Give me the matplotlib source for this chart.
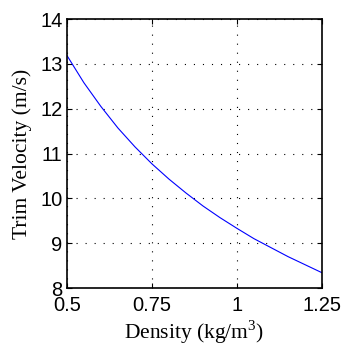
import matplotlib
matplotlib.use("Agg")
import matplotlib.pyplot as plt

# Data
density = [0.50, 0.55, 0.60, 0.65, 0.70, 0.75, 0.80, 0.85, 0.90, 0.95,
           1.00, 1.05, 1.10, 1.15, 1.20, 1.25]
trim_velocity = [13.19, 12.58, 12.05, 11.57, 11.15, 10.77, 10.43, 10.12, 9.83, 9.57,
                 9.33, 9.10, 8.90, 8.70, 8.52, 8.34]
xticks = [0.5, 0.75, 1.0, 1.25]
xticklabels = ["0.5", "0.75", "1", "1.25"]
yticks = [8, 9, 10, 11, 12, 13, 14]

plt.rcParams['lines.scale_dashes'] = False
plt.rcParams['mathtext.fontset'] = 'custom'
plt.rcParams['mathtext.rm'] = 'Liberation Serif'

fig = plt.figure(figsize=(3.43, 3.47), dpi=100)
ax = fig.add_axes([0.195, 0.170, 0.744, 0.775])

ax.plot(density, trim_velocity, color=(0, 0, 1), lw=0.8)

ax.set_xlim(0.5, 1.25)
ax.set_ylim(8, 14)
ax.set_xticks(xticks)
ax.set_xticklabels(xticklabels)
ax.set_yticks(yticks)

for lab in ax.get_xticklabels() + ax.get_yticklabels():
    lab.set_fontfamily(['Liberation Sans', 'DejaVu Sans'])
    lab.set_fontsize(14.5)

ax.tick_params(direction='in', length=3.5, width=0.8, top=True, right=True,
               colors='black')
ax.tick_params(axis='x', pad=5.5)
ax.tick_params(axis='y', pad=3)
for s in ax.spines.values():
    s.set_linewidth(1.2)
    s.set_color('black')

ax.grid(True, color='black', lw=0.8, linestyle=(0, (0.8, 5.7)))

labfont = dict(family=['Liberation Serif', 'DejaVu Serif'], size=15.5)
ax.set_xlabel(r"Density (kg/m$^\mathregular{3}$)", fontdict=labfont, labelpad=3)
ax.set_ylabel("Trim Velocity (m/s)", fontdict=labfont, labelpad=6)

fig.savefig("out.png", dpi=100)
